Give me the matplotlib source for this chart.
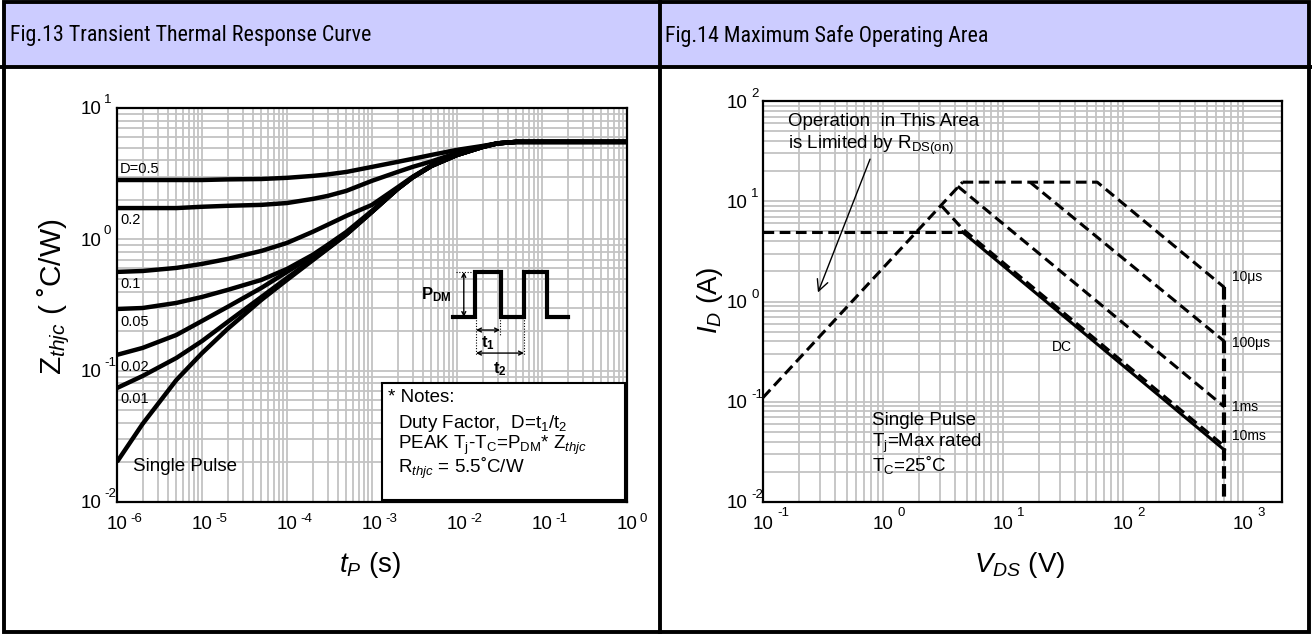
import numpy as np
import matplotlib
matplotlib.use("Agg")
import matplotlib.pyplot as plt
from matplotlib.patches import Rectangle
from matplotlib.ticker import FixedLocator, FixedFormatter, NullFormatter
from matplotlib import font_manager

# ---------------- data: Fig.13 transient thermal response ----------------
t_p = [1e-6, 2e-6, 5e-6, 1e-5, 2e-5, 5e-5, 1e-4, 2e-4, 3e-4, 5e-4, 1e-3,
       2e-3, 3e-3, 5e-3, 1e-2, 2e-2, 3e-2, 5e-2, 1e-1, 1.0]
z_d05 = [2.83, 2.83, 2.83, 2.83, 2.86, 2.88, 2.94, 3.04, 3.12, 3.26, 3.56,
         3.89, 4.10, 4.39, 4.80, 5.14, 5.38, 5.52, 5.52, 5.52]
z_d02 = [1.73, 1.73, 1.73, 1.77, 1.80, 1.83, 1.89, 2.03, 2.14, 2.34, 2.79,
         3.26, 3.56, 3.92, 4.55, 5.10, 5.38, 5.52, 5.52, 5.52]
z_d01 = [0.565, 0.574, 0.606, 0.650, 0.709, 0.816, 0.939, 1.14, 1.29, 1.51,
         1.83, 2.49, 2.99, 3.65, 4.39, 5.05, 5.38, 5.52, 5.52, 5.52]
z_d005 = [0.295, 0.300, 0.328, 0.364, 0.412, 0.491, 0.595, 0.761, 0.907, 1.14,
          1.65, 2.42, 2.96, 3.62, 4.39, 5.05, 5.38, 5.52, 5.52, 5.52]
z_d002 = [0.132, 0.149, 0.187, 0.239, 0.306, 0.427, 0.565, 0.747, 0.883, 1.10,
          1.62, 2.42, 2.96, 3.62, 4.39, 5.05, 5.38, 5.52, 5.52, 5.52]
z_d001 = [0.0738, 0.0911, 0.125, 0.168, 0.235, 0.364, 0.508, 0.703, 0.852,
          1.09, 1.62, 2.42, 2.96, 3.62, 4.39, 5.05, 5.38, 5.52, 5.52, 5.52]
z_single = [0.0202, 0.0393, 0.0850, 0.136, 0.208, 0.346, 0.491, 0.692, 0.845,
            1.09, 1.62, 2.42, 2.96, 3.62, 4.39, 5.05, 5.38, 5.52, 5.52, 5.52]
curve_sets = [z_d05, z_d02, z_d01, z_d005, z_d002, z_d001, z_single]
duty_labels = ["D=0.5", "0.2", "0.1", "0.05", "0.02", "0.01"]
left_xticks = [1e-6, 1e-5, 1e-4, 1e-3, 1e-2, 1e-1, 1e0]
left_xexp = ["-6", "-5", "-4", "-3", "-2", "-1", "0"]
left_yticks = [1e-2, 1e-1, 1e0, 1e1]
left_yexp = ["-2", "-1", "0", "1"]

# ---------------- data: Fig.14 safe operating area ----------------
rds_v = [0.1, 4.6]
rds_i = [0.11, 15.5]
dc_lim_v = [0.1, 4.6]
dc_lim_i = [4.93, 4.93]
us10_v = [4.6, 61.0, 700.0]
us10_i = [15.5, 15.5, 1.38]
us100_v = [16.8, 700.0]
us100_i = [15.5, 0.40]
ms1_v = [4.2, 700.0]
ms1_i = [14.1, 0.089]
ms10_v = [3.1, 4.6, 700.0]
ms10_i = [8.9, 5.3, 0.036]
dc_v = [4.6, 700.0]
dc_i = [4.93, 0.033]
vmax_v = [700.0, 700.0]
vmax_i = [1.38, 0.01]
right_xticks = [0.1, 1, 10, 100, 1000]
right_xexp = ["-1", "0", "1", "2", "3"]
right_yticks = [0.01, 0.1, 1, 10, 100]
right_yexp = ["-2", "-1", "0", "1", "2"]

# ---------------- style ----------------
plt.rcParams["font.family"] = ["Liberation Sans", "DejaVu Sans"]
plt.rcParams["mathtext.fontset"] = "custom"
plt.rcParams["mathtext.rm"] = "Liberation Sans"
plt.rcParams["mathtext.it"] = "Liberation Sans:italic"
plt.rcParams["mathtext.bf"] = "Liberation Sans:bold"

names = {f.name for f in font_manager.fontManager.ttflist}
hdr_font, hdr_size = "Liberation Sans", 14
for cand in ["Liberation Sans Narrow", "Arial Narrow", "Roboto Condensed",
             "Open Sans Condensed"]:
    if cand in names:
        hdr_font, hdr_size = cand, 15.8
        break

GRID = "#c3c3c3"
W, H = 1312, 634
fig = plt.figure(figsize=(W / 100, H / 100), dpi=100)
fig.patch.set_facecolor("white")

# background frame (pixel coordinates)
bg = fig.add_axes([0, 0, 1, 1], zorder=-10)
bg.set_xlim(0, W)
bg.set_ylim(H, 0)
bg.axis("off")
bg.add_patch(Rectangle((4, 3), 654, 63, facecolor="#ccccff", edgecolor="none"))
bg.add_patch(Rectangle((661, 3), 648, 63, facecolor="#ccccff", edgecolor="none"))
bg.add_patch(Rectangle((3.5, 2), W - 6.5, H - 4, fill=False, edgecolor="black", lw=2.8))
bg.plot([659.5, 659.5], [0, H], color="black", lw=2.8, solid_capstyle="butt")
bg.plot([0, W], [67, 67], color="black", lw=2.8, solid_capstyle="butt")
bg.text(10, 36, "Fig.13 Transient Thermal Response Curve", fontsize=hdr_size,
        family=[hdr_font, "DejaVu Sans"], va="center", ha="left")
bg.text(665, 36, "Fig.14 Maximum Safe Operating Area", fontsize=hdr_size,
        family=[hdr_font, "DejaVu Sans"], va="center", ha="left")


def style_axes(ax):
    ax.set_axisbelow(True)
    for s in ax.spines.values():
        s.set_linewidth(1.6)
        s.set_color("black")
    ax.tick_params(which="both", length=0, labelsize=13.5)
    ax.grid(True, which="both", color=GRID, lw=1.3)
    ax.xaxis.set_minor_formatter(NullFormatter())
    ax.yaxis.set_minor_formatter(NullFormatter())


def decade_ticks(ax, xt, xe, yt, ye, xoff, yoff, xpad, ypad):
    ax.xaxis.set_major_locator(FixedLocator(xt))
    ax.xaxis.set_major_formatter(FixedFormatter(["10"] * len(xt)))
    ax.yaxis.set_major_locator(FixedLocator(yt))
    ax.yaxis.set_major_formatter(FixedFormatter(["10"] * len(yt)))
    ax.tick_params(axis="x", pad=xpad)
    ax.tick_params(axis="y", pad=ypad)
    for tk, e in zip(xt, xe):
        ax.annotate(e, xy=(tk, 0), xycoords=("data", "axes fraction"),
                    xytext=xoff, textcoords="offset pixels", fontsize=9.5,
                    ha="left", va="center", annotation_clip=False)
    for tk, e in zip(yt, ye):
        ax.annotate(e, xy=(0, tk), xycoords=("axes fraction", "data"),
                    xytext=yoff, textcoords="offset pixels", fontsize=9.5,
                    ha="left", va="center", annotation_clip=False)


# ---------------- left chart ----------------
axL = fig.add_axes([117 / W, (H - 502) / H, 510 / W, 394 / H])
axL.set_xscale("log")
axL.set_yscale("log")
axL.set_xlim(1e-6, 1)
axL.set_ylim(1e-2, 10)
style_axes(axL)
decade_ticks(axL, left_xticks, left_xexp, left_yticks, left_yexp,
             xoff=(13, -17), yoff=(-13, 8), xpad=10, ypad=11)
for z in curve_sets:
    axL.plot(t_p, z, color="black", lw=3.2, solid_joinstyle="round",
             solid_capstyle="butt")

lab_y = [0.845, 0.716, 0.553, 0.457, 0.343, 0.261]
for lab, yy in zip(duty_labels, lab_y):
    axL.text(0.006, yy, lab, transform=axL.transAxes, fontsize=10.5,
             va="center", ha="left")
axL.text(0.031, 0.089, "Single Pulse", transform=axL.transAxes, fontsize=13.5,
         va="center", ha="left")

axL.set_xlabel(r"$t_P$ (s)", fontsize=20)
axL.xaxis.set_label_coords(0.496, -0.16)
axL.xaxis.label.set_va("center")
axL.set_ylabel(r"Z$_{thjc}$ ( ˚C/W)", fontsize=21.5)
axL.yaxis.set_label_coords(-0.125, 0.52)
axL.yaxis.label.set_va("center")

# pulse diagram (axes fraction)
T = axL.transAxes
lo, hi = 0.4695, 0.5838
xs = [0.6588, 0.702, 0.702, 0.7529, 0.7529, 0.798, 0.798, 0.843, 0.843, 0.8843]
ys = [lo, lo, hi, hi, lo, lo, hi, hi, lo, lo]
axL.plot(xs, ys, transform=T, color="black", lw=3.0, solid_joinstyle="miter",
         zorder=4)
axL.plot([0.665, 0.702], [hi, hi], transform=T, color="black", lw=0.8,
         ls=(0, (1, 1.5)), zorder=4)
arr = dict(arrowstyle="<->", lw=1.0, color="black", mutation_scale=7,
           shrinkA=0, shrinkB=0)
axL.annotate("", xy=(0.680, hi), xytext=(0.680, lo), xycoords=T, textcoords=T,
             arrowprops=arr)
axL.text(0.655, 0.525, r"$\mathbf{P_{DM}}$", transform=T, fontsize=12,
         ha="right", va="center")
for xv, yb in [(0.704, 0.373), (0.751, 0.424), (0.798, 0.373)]:
    axL.plot([xv, xv], [lo, yb], transform=T, color="black", lw=0.8,
             ls=(0, (1, 1.5)), zorder=4)
axL.annotate("", xy=(0.751, 0.4365), xytext=(0.704, 0.4365), xycoords=T,
             textcoords=T, arrowprops=arr)
axL.annotate("", xy=(0.798, 0.378), xytext=(0.704, 0.378), xycoords=T,
             textcoords=T, arrowprops=arr)
axL.text(0.727, 0.402, r"$\mathbf{t_1}$", transform=T, fontsize=12, ha="center",
         va="center")
axL.text(0.751, 0.336, r"$\mathbf{t_2}$", transform=T, fontsize=12, ha="center",
         va="center")

# notes box
axL.add_patch(Rectangle((0.52, 0.005), 0.476, 0.297, transform=T,
                        facecolor="white", edgecolor="black", lw=1.5, zorder=5))
note_kw = dict(transform=T, fontsize=13.5, ha="left", va="center", zorder=6)
axL.text(0.531, 0.264, "* Notes:", **note_kw)
axL.text(0.551, 0.2005, r"Duty Factor,  D=t$_{\mathregular{1}}$/t$_{\mathregular{2}}$",
         **note_kw)
axL.text(0.551, 0.1447,
         r"PEAK T$_{\mathregular{j}}$-T$_{\mathregular{C}}$=P$_{\mathregular{DM}}$* Z$_{thjc}$",
         **note_kw)
axL.text(0.551, 0.0863, r"R$_{thjc}$ = 5.5˚C/W", **note_kw)

# ---------------- right chart ----------------
x_right = 10 ** (-1 + 519 / 120)
axR = fig.add_axes([763 / W, (H - 502) / H, 519 / W, 401 / H])
axR.set_xscale("log")
axR.set_yscale("log")
axR.set_xlim(0.1, x_right)
axR.set_ylim(0.01, 100)
style_axes(axR)
minor_x = [k * 10.0 ** e for e in range(-1, 3) for k in range(2, 10)]
axR.xaxis.set_minor_locator(FixedLocator(minor_x))
decade_ticks(axR, right_xticks, right_xexp, right_yticks, right_yexp,
             xoff=(14, -11), yoff=(-12, 7), xpad=10, ypad=11.5)

dash = (0, (3.5, 1.8))
dkw = dict(color="black", lw=2.2, ls=dash)
axR.plot(rds_v, rds_i, **dkw)
axR.plot(dc_lim_v, dc_lim_i, **dkw)
axR.plot(us10_v, us10_i, **dkw)
axR.plot(us100_v, us100_i, **dkw)
axR.plot(ms1_v, ms1_i, **dkw)
axR.plot(ms10_v, ms10_i, **dkw)
axR.plot(dc_v, dc_i, color="black", lw=2.2)
axR.plot(vmax_v, vmax_i, color="black", lw=3.0, ls=(0, (3, 1.3)))

TR = axR.transAxes
axR.text(0.048, 0.948, "Operation  in This Area", transform=TR, fontsize=13.5,
         ha="left", va="center")
axR.text(0.048, 0.890, r"is Limited by R$_{\mathregular{DS(on)}}$", transform=TR,
         fontsize=13.5, ha="left", va="center")
axR.annotate("", xy=(0.287, 1.23), xytext=(0.78, 26.3),
             arrowprops=dict(arrowstyle="->", lw=1.0, color="black",
                             mutation_scale=20, shrinkA=0, shrinkB=0))
for lab, yy in [("10μs", 0.561), ("100μs", 0.397), ("1ms", 0.237), ("10ms", 0.165)]:
    axR.text(0.904, yy, lab, transform=TR, fontsize=10, ha="left", va="center")
axR.text(0.557, 0.387, "DC", transform=TR, fontsize=10, ha="left", va="center")
axR.text(0.210, 0.204, "Single Pulse", transform=TR, fontsize=13.5, ha="left",
         va="center")
axR.text(0.210, 0.147, r"T$_{\mathregular{j}}$=Max rated", transform=TR,
         fontsize=13.5, ha="left", va="center")
axR.text(0.210, 0.092, r"T$_{\mathregular{C}}$=25˚C", transform=TR, fontsize=13.5,
         ha="left", va="center")

axR.set_xlabel(r"$V_{DS}$ (V)", fontsize=20)
axR.xaxis.set_label_coords(0.495, -0.157)
axR.xaxis.label.set_va("center")
axR.set_ylabel(r"$I_D$ (A)", fontsize=20)
axR.yaxis.set_label_coords(-0.102, 0.504)
axR.yaxis.label.set_va("center")

fig.savefig("out.png", dpi=100, facecolor="white")
